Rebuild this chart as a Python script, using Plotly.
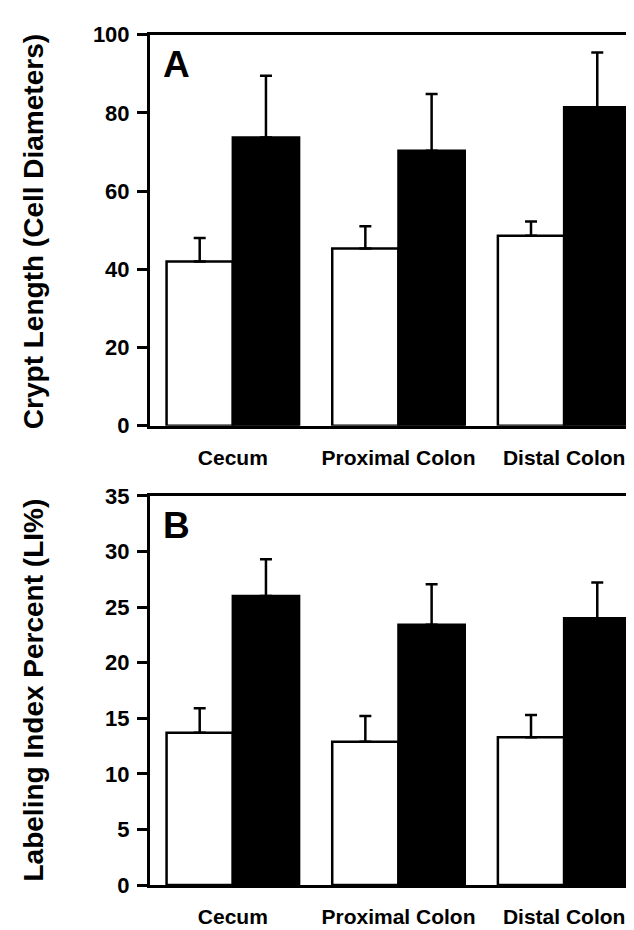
import plotly.graph_objects as go

categories = ["Cecum", "Proximal Colon", "Distal Colon"]

# Panel A: crypt length (cell diameters)
a_white = [42.0, 45.3, 48.6]
a_white_err = [6.0, 5.7, 3.6]
a_black = [73.7, 70.3, 81.4]
a_black_err = [15.8, 14.5, 14.0]

# Panel B: labeling index percent
b_white = [13.7, 12.9, 13.3]
b_white_err = [2.2, 2.3, 2.0]
b_black = [26.0, 23.4, 24.0]
b_black_err = [3.3, 3.65, 3.2]

a_ticks = [0, 20, 40, 60, 80, 100]
b_ticks = [0, 5, 10, 15, 20, 25, 30, 35]

FONT = "Liberation Sans, Arial, sans-serif"
W, H = 634, 930

fig = go.Figure()


def add_pair(white, werr, black, berr, xa, ya):
    eb = lambda arr: dict(type="data", array=arr, arrayminus=[0] * len(arr),
                          symmetric=False, color="black", thickness=2.5, width=6)
    fig.add_trace(go.Bar(x=categories, y=white, error_y=eb(werr),
                         marker=dict(color="white", line=dict(color="black", width=2.5)),
                         xaxis=xa, yaxis=ya, showlegend=False))
    fig.add_trace(go.Bar(x=categories, y=black, error_y=eb(berr),
                         marker=dict(color="black", line=dict(color="black", width=2.5)),
                         xaxis=xa, yaxis=ya, showlegend=False))


add_pair(a_white, a_white_err, a_black, a_black_err, "x", "y")
add_pair(b_white, b_white_err, b_black, b_black_err, "x2", "y2")

xdom = [142 / W, 1.0]
ydomA = [(H - 417) / H, (H - 15) / H]
ydomB = [(H - 889) / H, (H - 489) / H]

xcommon = dict(range=[-0.5, 2.47], showline=True, linecolor="black", linewidth=3,
               mirror=True, ticks="", showgrid=False, zeroline=False,
               tickfont=dict(family=FONT, size=21, color="black", weight="bold"),
               ticklabelstandoff=11, domain=xdom, fixedrange=True)
ycommon = dict(showline=True, linecolor="black", linewidth=3, ticks="outside",
               ticklen=10, tickwidth=3, tickcolor="black", showgrid=False,
               zeroline=False, ticklabelstandoff=3,
               tickfont=dict(family=FONT, size=22, color="black", weight="bold"),
               fixedrange=True)

fig.update_layout(
    width=W, height=H,
    margin=dict(l=0, r=0, t=0, b=0),
    paper_bgcolor="white", plot_bgcolor="white",
    barmode="group", bargap=0.2, bargroupgap=0,
    xaxis=dict(**xcommon, anchor="y"),
    yaxis=dict(**ycommon, range=[0, 100], tickvals=a_ticks, domain=ydomA, anchor="x"),
    xaxis2=dict(**xcommon, anchor="y2"),
    yaxis2=dict(**ycommon, range=[0, 35], tickvals=b_ticks, domain=ydomB, anchor="x2"),
    annotations=[
        dict(text="Crypt Length (Cell Diameters)", textangle=-90, showarrow=False,
             xref="paper", yref="paper", x=25 / W, y=(H - 218) / H,
             xanchor="center", yanchor="middle",
             font=dict(family=FONT, size=28, color="black", weight="bold")),
        dict(text="Labeling Index Percent (LI%)", textangle=-90, showarrow=False,
             xref="paper", yref="paper", x=25 / W, y=(H - 689) / H,
             xanchor="center", yanchor="middle",
             font=dict(family=FONT, size=28, color="black", weight="bold")),
        dict(text="A", showarrow=False, xref="x domain", yref="y domain",
             x=0.022, y=0.923, xanchor="left", yanchor="middle",
             font=dict(family=FONT, size=37, color="black", weight="bold")),
        dict(text="B", showarrow=False, xref="x2 domain", yref="y2 domain",
             x=0.022, y=0.925, xanchor="left", yanchor="middle",
             font=dict(family=FONT, size=37, color="black", weight="bold")),
    ],
)

fig.write_html("out.html")
